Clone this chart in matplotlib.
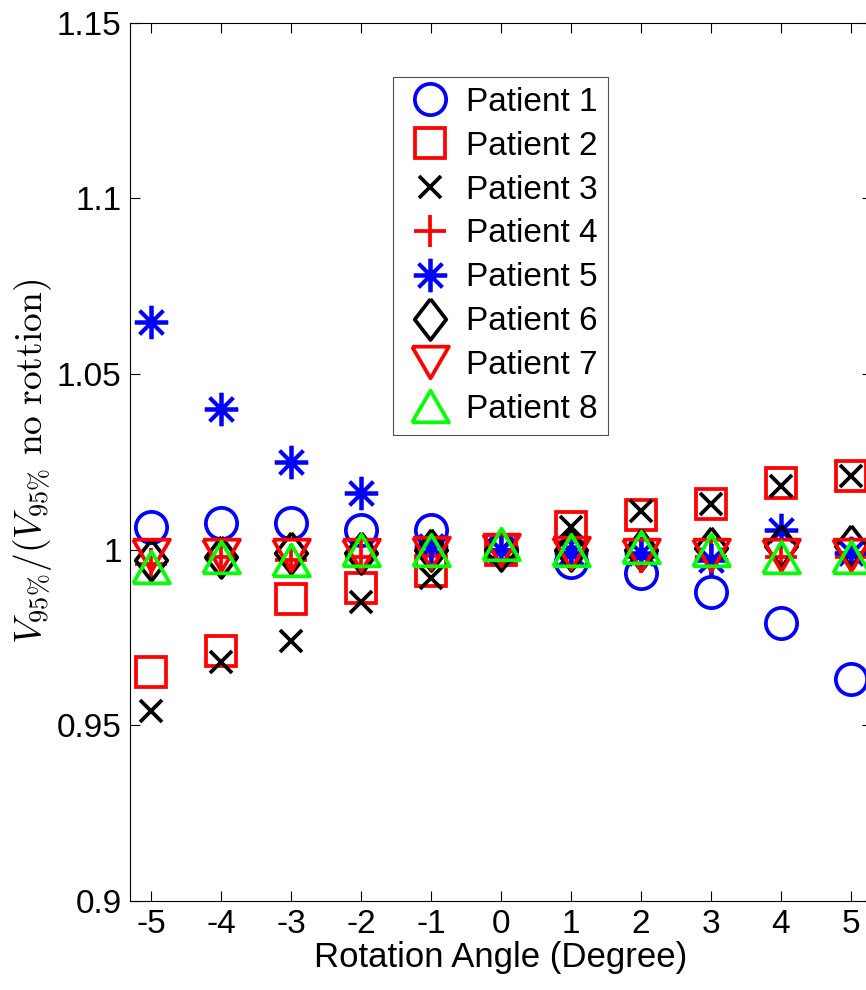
import numpy as np
import matplotlib
matplotlib.use("Agg")
import matplotlib.pyplot as plt

plt.rcParams['font.family'] = ['Liberation Sans', 'DejaVu Sans']
plt.rcParams['mathtext.fontset'] = 'cm'

# data
angles = [-5, -4, -3, -2, -1, 0, 1, 2, 3, 4, 5]
p1 = [1.0065, 1.0075, 1.0075, 1.0055, 1.0055, 1.0, 0.9965, 0.9933, 0.988, 0.979, 0.963]
p2 = [0.965, 0.971, 0.986, 0.989, 0.994, 1.0, 1.0064, 1.0098, 1.013, 1.019, 1.021]
p3 = [0.954, 0.968, 0.974, 0.985, 0.992, 1.0, 1.0064, 1.011, 1.013, 1.018, 1.021]
p4 = [0.996, 0.998, 0.997, 0.998, 0.999, 1.0, 0.999, 0.998, 0.998, 0.998, 0.998]
p5 = [1.0648, 1.040, 1.025, 1.016, 1.001, 1.0, 0.999, 0.999, 0.997, 1.0055, 0.999]
p6 = [0.997, 0.998, 0.999, 0.999, 1.0, 1.0, 1.0, 1.0, 1.0005, 1.001, 1.001]
p7 = [0.9985, 0.9985, 0.9985, 0.9985, 0.999, 1.0, 0.999, 0.9985, 0.9985, 0.9985, 0.9985]
p8 = [0.995, 0.998, 0.997, 1.0, 1.0, 1.0015, 1.0, 1.0007, 1.0, 0.998, 0.998]
labels = ['Patient 1', 'Patient 2', 'Patient 3', 'Patient 4',
          'Patient 5', 'Patient 6', 'Patient 7', 'Patient 8']

# matlab-ish marker shapes
diamond = [(0, 1), (0.77, 0), (0, -1), (-0.77, 0), (0, 1)]
tri_dn = [(-1, 0.86), (1, 0.86), (0, -0.86), (-1, 0.86)]
tri_up = [(-1, -0.86), (1, -0.86), (0, 0.86), (-1, -0.86)]
star = (8, 2, 0)

series = [p1, p2, p3, p4, p5, p6, p7, p8]
styles = [
    ('o', 'b', 22.5),
    ('s', 'r', 21),
    ('x', 'k', 16.5),
    ('+', 'r', 23),
    (star, 'b', 24),
    (diamond, 'k', 29.5),
    (tri_dn, 'r', 26.5),
    (tri_up, (0, 1, 0), 26.5),
]

fig = plt.figure(figsize=(8.66, 9.9), dpi=100)
ax = fig.add_axes([130 / 866, 89.3 / 990, 742 / 866, 878 / 990])

for vals, (m, c, ms), lab in zip(series, styles, labels):
    ax.plot(angles, vals, linestyle='none', marker=m, markersize=ms,
            markerfacecolor='none', markeredgecolor=c, markeredgewidth=2.7,
            label=lab)

ax.set_xlim(-5.3, 5.3)
ax.set_ylim(0.9, 1.15)
ax.set_xticks(angles)
ax.set_xticklabels([str(a) for a in angles])
ax.set_yticks([0.9, 0.95, 1.0, 1.05, 1.1, 1.15])
ax.set_yticklabels(['0.9', '0.95', '1', '1.05', '1.1', '1.15'])
ax.tick_params(direction='in', length=7, width=0.8, labelsize=24,
               top=True, right=True, pad=6)
for s in ax.spines.values():
    s.set_linewidth(0.8)

ax.set_xlabel('Rotation Angle (Degree)', fontsize=25, labelpad=1)
ax.set_ylabel(r'$V_{95\%}/(V_{95\%}\ \mathrm{no\ rottion})$', fontsize=27, labelpad=2)

leg = ax.legend(loc='upper left', bbox_to_anchor=(393 / 866, 1 - 77 / 990),
                bbox_transform=fig.transFigure, fontsize=24, frameon=True,
                fancybox=False, edgecolor='#222222', borderpad=0.3,
                labelspacing=0.385, handletextpad=0.3, handlelength=1.6,
                borderaxespad=0)
leg.get_frame().set_linewidth(0.8)

fig.savefig('out.png', dpi=100)
